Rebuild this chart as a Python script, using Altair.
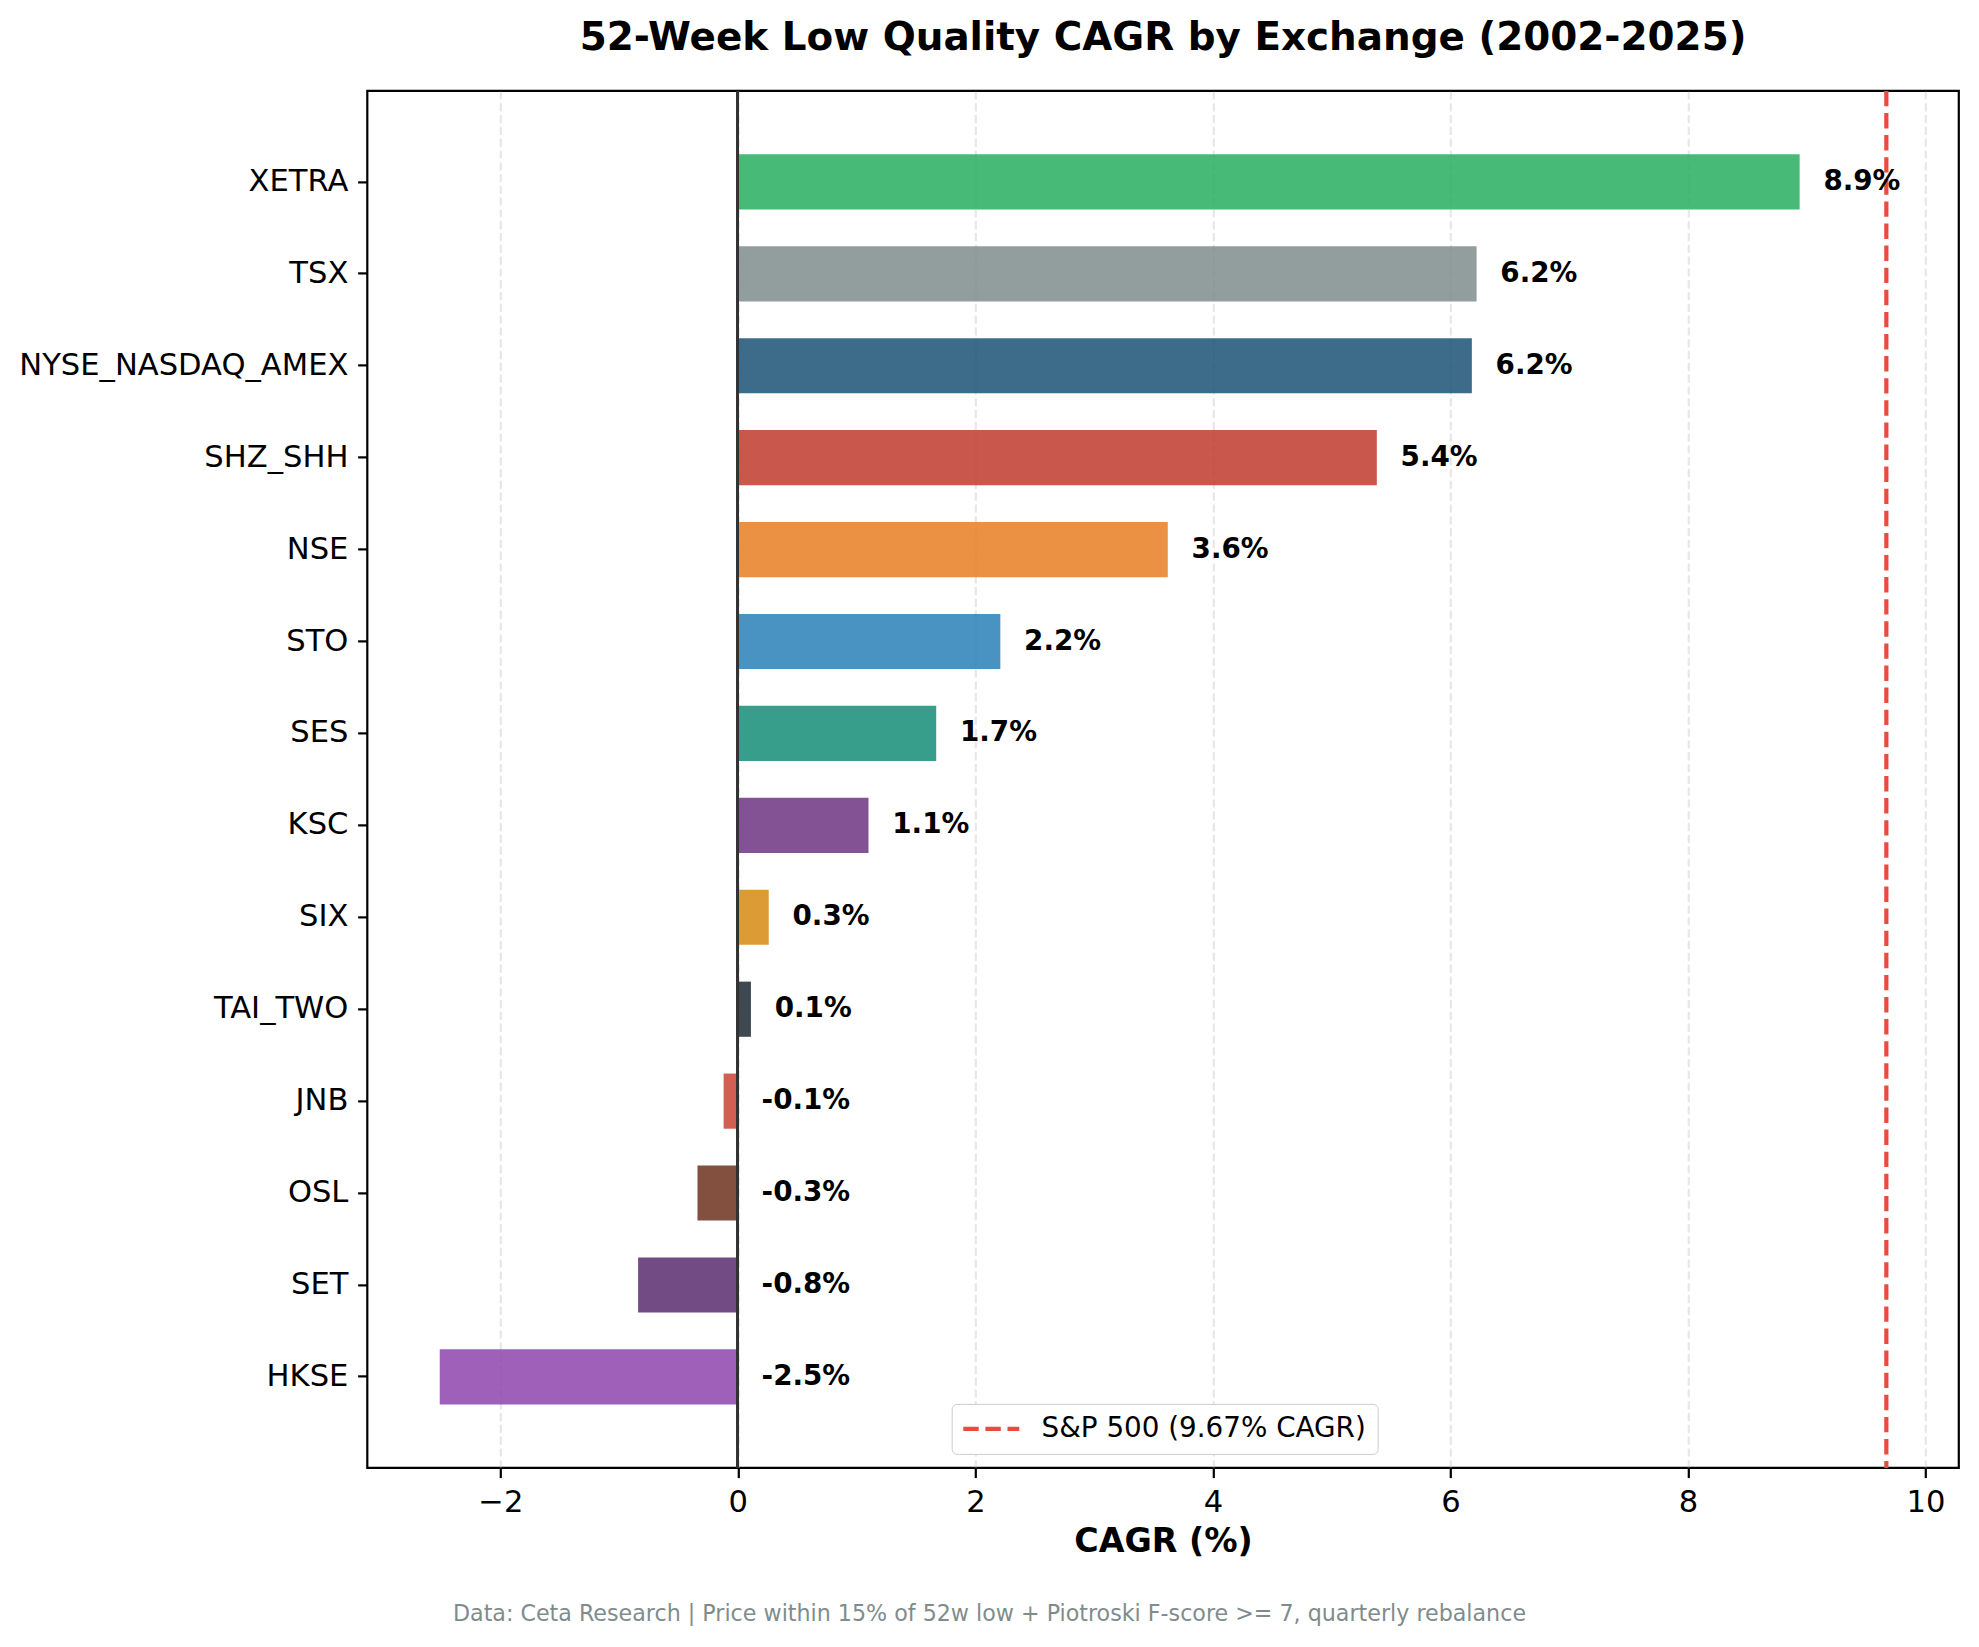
import altair as alt
import pandas as pd

# ---- data ----
exchanges = ["XETRA", "TSX", "NYSE_NASDAQ_AMEX", "SHZ_SHH", "NSE", "STO", "SES",
             "KSC", "SIX", "TAI_TWO", "JNB", "OSL", "SET", "HKSE"]
cagr = [8.94, 6.22, 6.18, 5.38, 3.62, 2.21, 1.67, 1.10, 0.26, 0.11, -0.12, -0.34, -0.84, -2.51]
bar_colors = ["#27ae60", "#7f8c8d", "#1a5276", "#c0392b", "#e67e22", "#2980b9", "#138d75",
              "#6c3483", "#d68910", "#1c2833", "#cb4335", "#6d301c", "#5b2c6f", "#8e44ad"]
x_ticks = [-2, 0, 2, 4, 6, 8, 10]
sp500_cagr = 9.67
sp500_label = "S&P 500 (9.67% CAGR)"
title_text = "52-Week Low Quality CAGR by Exchange (2002-2025)"
footnote = "Data: Ceta Research | Price within 15% of 52w low + Piotroski F-score >= 7, quarterly rebalance"

FONT = "DejaVu Sans"

df = pd.DataFrame({"exchange": exchanges, "cagr": cagr})
df["label"] = [f"{v:.1f}%" for v in cagr]
sp_df = pd.DataFrame({"sp": [sp500_cagr], "name": [sp500_label]})
note_df = pd.DataFrame({"note": [footnote]})

W, H = 1591.5, 1377

x_scale = alt.Scale(domain=[-3.12, 10.28], nice=False, zero=False)
y_scale = alt.Scale(paddingInner=0.4, paddingOuter=0.69)

x_axis = alt.Axis(values=x_ticks, format="d", title="CAGR (%)", titleFont=FONT, titleFontSize=33.3,
                  titleFontWeight="bold", titleColor="black", titlePadding=8,
                  labelFont=FONT, labelFontSize=30.6, labelColor="black", labelPadding=9.7,
                  tickSize=9.7, tickWidth=2.2, tickColor="black", domain=False,
                  grid=True, gridDash=[8.2, 3.6], gridColor="#b0b0b0", gridOpacity=0.3,
                  gridWidth=2.2)
y_axis = alt.Axis(title=None, labelFont=FONT, labelFontSize=30.6, labelColor="black",
                  labelPadding=9.7, tickSize=9.7, tickWidth=2.2, tickColor="black",
                  domain=False, grid=False, labelLimit=0)

base = alt.Chart(df)

bars = base.mark_bar(opacity=0.85).encode(
    y=alt.Y("exchange:N", sort=exchanges, scale=y_scale, axis=y_axis),
    x=alt.X("cagr:Q", scale=x_scale, axis=x_axis),
    color=alt.Color("exchange:N", scale=alt.Scale(domain=exchanges, range=bar_colors), legend=None),
)

zero_line = alt.Chart(df).mark_rule(color="#333333", strokeWidth=2.2).encode(
    x=alt.datum(0)
)

sp_line = alt.Chart(sp_df).mark_rule(strokeDash=[15.4, 6.7], strokeWidth=4.2).encode(
    x=alt.X("sp:Q", scale=x_scale),
    color=alt.Color("name:N", scale=alt.Scale(domain=[sp500_label], range=["#e74c3c"]),
                    legend=alt.Legend(title=None, orient="none", legendX=584.4, legendY=1313,
                                      symbolType="M-1.9,0L6.1,0", symbolStrokeWidth=4.2,
                                      symbolDash=[15.4, 6.7], symbolSize=196,
                                      labelFont=FONT, labelFontSize=27.8, labelColor="black",
                                      labelOffset=51, padding=11, strokeColor="#cccccc",
                                      fillColor="white", cornerRadius=5, labelLimit=0)),
)

labels = base.transform_calculate(
    label_x="max(datum.cagr, 0) + 0.2"
).mark_text(align="left", baseline="middle", font=FONT, fontSize=27.8,
            fontWeight="bold", color="black").encode(
    y=alt.Y("exchange:N", sort=exchanges, scale=y_scale),
    x=alt.X("label_x:Q", scale=x_scale),
    text="label:N",
)

note = alt.Chart(note_df).mark_text(align="center", baseline="middle", font=FONT,
                                    fontSize=22.2, color="#7f8c8d").encode(
    x=alt.value(622.2), y=alt.value(1523), text="note:N"
)

chart = alt.layer(bars, zero_line, sp_line, labels, note).resolve_scale(
    color="independent"
).properties(
    width=W, height=H,
    background="white",
    title=alt.TitleParams(title_text, font=FONT, fontSize=38.9, fontWeight="bold",
                          color="black", anchor="middle", baseline="alphabetic",
                          offset=0, frame="group"),
    autosize=alt.AutoSizeParams(type="none"),
    padding={"left": 359.3, "top": 82.9, "right": 12, "bottom": 171},
).configure_view(stroke="black", strokeWidth=2.2)

chart.save("out.html", embed_options={"renderer": "svg", "actions": False})
